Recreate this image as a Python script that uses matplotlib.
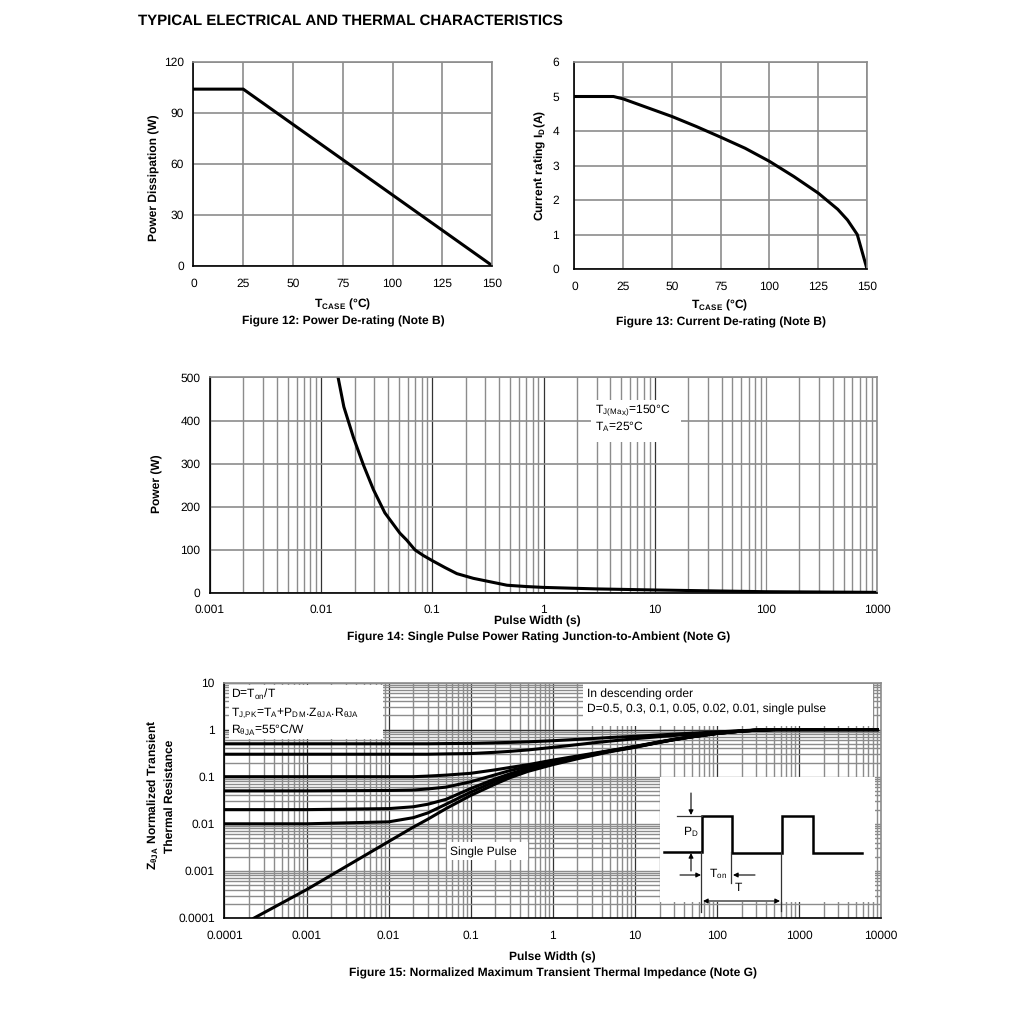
import matplotlib
matplotlib.use("Agg")
import matplotlib.pyplot as plt
from matplotlib.patches import Rectangle
from matplotlib.ticker import LogLocator

plt.rcParams["font.family"] = ["Liberation Sans", "DejaVu Sans"]
plt.rcParams["mathtext.fontset"] = "custom"
plt.rcParams["mathtext.rm"] = "Liberation Sans"
plt.rcParams["mathtext.it"] = "Liberation Sans"
plt.rcParams["mathtext.bf"] = "Liberation Sans:bold"
plt.rcParams["text.hinting"] = "no_hinting"
plt.rcParams["text.hinting_factor"] = 1

W, H = 1020, 1011
GRID = "#8c8c8c"
DARK = "#333333"
LW = 2.2

# Figure 12
t12 = [0, 25, 150]
p12 = [104, 104, 0]

# Figure 13
t13 = [0, 20, 25, 50, 62.5, 75, 87.5, 100, 112.5, 125, 135, 140, 145, 150]
i13 = [5, 5, 4.93, 4.42, 4.13, 3.82, 3.5, 3.12, 2.68, 2.2, 1.73, 1.42, 1.0, 0]

# Figure 14
w14 = [0.0142, 0.016, 0.0195, 0.024, 0.0295, 0.0374, 0.051, 0.0587, 0.0698, 0.083, 0.1,
       0.13, 0.166, 0.234, 0.47, 0.7, 1, 3, 10, 100, 1000]
p14 = [500, 432, 361, 297, 240, 186, 139, 123, 100, 87, 75,
       59, 45, 34, 18, 15, 13, 9.5, 7, 3, 1.5]

# Figure 15
w15 = [0.0001, 0.001, 0.01, 0.02, 0.03, 0.05, 0.1, 0.2, 0.3, 0.5, 1, 2, 3, 5, 10, 20, 30,
       50, 100, 200, 300, 500, 1000, 9000]
z_d50 = [.5, .5, .5, .5, .5, .505, .51, .525, .535, .55, .58, .62, .645, .68, .72, .77, .8,
         .84, .89, .95, .98, 1, 1, 1]
z_d30 = [.3, .3, .3, .3, .3, .305, .31, .33, .345, .37, .42, .48, .52, .57, .64, .71, .75,
         .8, .87, .94, .97, 1, 1, 1]
z_d10 = [.1, .1, .1, .1, .103, .108, .118, .14, .157, .18, .225, .275, .31, .36, .44, .55, .62,
         .71, .83, .93, .97, 1, 1, 1]
z_d05 = [.05, .05, .051, .052, .055, .06, .078, .11, .135, .165, .21, .265, .3, .355, .435, .545, .62,
         .71, .83, .93, .97, 1, 1, 1]
z_d02 = [.02, .02, .021, .023, .026, .033, .056, .09, .115, .15, .2, .255, .295, .35, .43, .54, .615,
         .705, .83, .93, .97, 1, 1, 1]
z_d01 = [.01, .01, .011, .0135, .017, .026, .047, .08, .105, .14, .19, .25, .29, .345, .425, .54, .61,
         .705, .83, .93, .97, 1, 1, 1]
series15 = [z_d50, z_d30, z_d10, z_d05, z_d02, z_d01]
w_single = [0.00023, 0.001, 0.01, 0.02, 0.03, 0.05, 0.1, 0.2, 0.3, 0.5, 1, 2, 3, 5, 10, 20, 30,
            50, 100, 200, 300, 500, 1000, 9000]
z_single = [.0001, .0004, .0042, .0085, .0125, .021, .04, .07, .095, .13, .18, .24, .28, .34, .42, .535, .61,
            .70, .83, .93, .97, 1, 1, 1]

fig = plt.figure(figsize=(W / 100, H / 100), dpi=100, facecolor="white")


def make_axes(left, top, right, bottom):
    ax = fig.add_axes([left / W, 1 - bottom / H, (right - left) / W, (bottom - top) / H])
    ax.tick_params(which="both", length=0, labelsize=8.3)
    ax.tick_params(axis="x", pad=9)
    ax.tick_params(axis="y", pad=7)
    for side in ("top", "right"):
        ax.spines[side].set_color(GRID)
        ax.spines[side].set_linewidth(1.2)
    for side in ("left", "bottom"):
        ax.spines[side].set_linewidth(1.2)
    ax.set_axisbelow(True)
    return ax


def ptext(x, y, s, **kw):
    kw.setdefault("ha", "center")
    kw.setdefault("va", "center")
    kw.setdefault("fontsize", 8.45)
    fig.text(x / W, 1 - y / H, s, **kw)


# ── Figure 12 ──
ax = make_axes(193.5, 62, 492, 265.5)
ax.plot(t12, p12, color="black", lw=LW, solid_joinstyle="miter")
ax.set_xlim(0, 150)
ax.set_ylim(0, 120)
ax.set_xticks(range(0, 151, 25))
ax.set_yticks(range(0, 121, 30))
ax.grid(True, color=GRID, lw=1.2)

# ── Figure 13 ──
ax = make_axes(574.5, 62, 867, 269)
ax.plot(t13, i13, color="black", lw=LW, solid_joinstyle="miter")
ax.set_xlim(0, 150)
ax.set_ylim(0, 6)
ax.set_xticks(range(0, 151, 25))
ax.set_yticks(range(0, 7))
ax.tick_params(axis="y", pad=11)
ax.grid(True, color=GRID, lw=1.2)

# ── Figure 14 ──
ax = make_axes(210, 377.5, 877, 593)
ax.plot(w14, p14, color="black", lw=LW)
ax.set_xscale("log")
ax.set_xlim(0.001, 1000)
ax.set_ylim(0, 500)
ax.set_xticks([0.001, 0.01, 0.1, 1, 10, 100, 1000])
ax.set_xticklabels(["0.001", "0.01", "0.1", "1", "10", "100", "1000"])
ax.set_yticks(range(0, 501, 100))
ax.xaxis.set_minor_locator(LogLocator(base=10, subs=range(2, 10), numticks=20))
ax.tick_params(axis="x", which="minor", labelbottom=False)
ax.tick_params(axis="x", pad=8)
ax.grid(True, which="minor", axis="x", color=GRID, lw=1.0)
ax.grid(True, which="major", axis="x", color=DARK, lw=0.9)
ax.grid(True, which="major", axis="y", color=GRID, lw=1.2)
# the 100 line is grey in the original
ax.xaxis.get_major_ticks()[5].gridline.set_color(GRID)

# ── Figure 15 ──
ax = make_axes(224.5, 682.5, 881, 918)
for z in series15:
    ax.plot(w15, z, color="black", lw=LW, zorder=4)
ax.plot(w_single, z_single, color="black", lw=LW, zorder=4)
ax.set_xscale("log")
ax.set_yscale("log")
ax.set_xlim(0.0001, 10000)
ax.set_ylim(0.0001, 10)
dec_x = [0.0001, 0.001, 0.01, 0.1, 1, 10, 100, 1000, 10000]
dec_y = [0.0001, 0.001, 0.01, 0.1, 1, 10]
ax.set_xticks(dec_x)
ax.set_xticklabels(["0.0001", "0.001", "0.01", "0.1", "1", "10", "100", "1000", "10000"])
ax.set_yticks(dec_y)
ax.set_yticklabels(["0.0001", "0.001", "0.01", "0.1", "1", "10"])
ax.xaxis.set_minor_locator(LogLocator(base=10, subs=range(2, 10), numticks=20))
ax.yaxis.set_minor_locator(LogLocator(base=10, subs=range(2, 10), numticks=20))
ax.tick_params(which="minor", labelbottom=False, labelleft=False)
ax.grid(True, which="minor", color=GRID, lw=1.0)
ax.grid(True, which="major", axis="x", color=DARK, lw=0.9)
ax.grid(True, which="major", axis="y", color=GRID, lw=1.0)
ax.axhline(1, color=DARK, lw=0.9, zorder=1)

# overlay in pixel coordinates for white boxes and the pulse sketch
ov = fig.add_axes([0, 0, 1, 1], zorder=10)
ov.set_xlim(0, W)
ov.set_ylim(H, 0)
ov.axis("off")
ov.patch.set_alpha(0)

boxes = [(591, 400, 90, 42), (229, 685, 154, 54), (583, 684, 290, 42),
         (660, 777, 215, 125), (447, 842, 81, 18)]
for x, y, w, h in boxes:
    ov.add_patch(Rectangle((x, y), w, h, facecolor="white", edgecolor="none"))

# pulse waveform
wave_x = [664, 702, 702, 732, 732, 782, 782, 813, 813, 862]
wave_y = [851.5, 851.5, 816, 816, 852.5, 852.5, 816, 816, 852.5, 852.5]
ov.plot(wave_x, wave_y, color="black", lw=1.8, solid_joinstyle="miter")
thin = dict(color="#333333", lw=0.9)
ov.plot([677, 702], [816, 816], **thin)
ov.plot([701, 701], [852, 912], **thin)
ov.plot([731, 731], [852, 883], **thin)
ov.plot([781, 781], [852, 911], **thin)


def arrow(x0, y0, x1, y1, style="-|>"):
    ov.annotate("", xy=(x1, y1), xytext=(x0, y0),
                arrowprops=dict(arrowstyle=style, color="black", lw=0.8, mutation_scale=7,
                                shrinkA=0, shrinkB=0))


arrow(691, 793, 691, 815)
arrow(691, 871, 691, 853)
arrow(680, 875, 701, 875)
arrow(755, 875, 733, 875)
arrow(703, 901, 780, 901, "<|-|>")

# ── Text ──
BOLD = dict(fontweight="bold", fontsize=8.45)
ptext(138, 20.5, "TYPICAL ELECTRICAL AND THERMAL CHARACTERISTICS", ha="left",
      fontsize=11.15, fontweight="bold")

ptext(343, 304, r"$\mathbf{T_{CASE}}$ (°C)", **BOLD)
ptext(343, 321, "Figure 12: Power De-rating (Note B)", **BOLD)
ptext(154, 178, "Power Dissipation (W)", rotation=90, **BOLD)

ptext(720, 305, r"$\mathbf{T_{CASE}}$ (°C)", **BOLD)
ptext(720.5, 322.5, "Figure 13: Current De-rating (Note B)", **BOLD)
ptext(540, 165, r"Current rating I$\mathbf{_D}$(A)", rotation=90, **BOLD)

ptext(537, 621, "Pulse Width (s)", **BOLD)
ptext(538.5, 637, "Figure 14: Single Pulse Power Rating Junction-to-Ambient (Note G)", **BOLD)
ptext(157, 484, "Power (W)", rotation=90, **BOLD)

ptext(552, 957, "Pulse Width (s)", **BOLD)
ptext(552.5, 973, "Figure 15: Normalized Maximum Transient Thermal Impedance (Note G)", **BOLD)
ptext(153, 795, r"Z$\mathbf{_{θJA}}$ Normalized Transient", rotation=90, **BOLD)
ptext(170, 796, "Thermal Resistance", rotation=90, **BOLD)

ptext(595, 410, r"T$_{\mathrm{J(Max)}}$=150°C", ha="left", zorder=20)
ptext(595, 427, r"T$_{\mathrm{A}}$=25°C", ha="left", zorder=20)
for y, s in [(694, r"D=T$_{\mathrm{on}}$/T"),
             (713, r"T$_{\mathrm{J{,}PK}}$=T$_{\mathrm{A}}$+P$_{\mathrm{DM}}$.Z$_{\mathrm{θJA}}$.R$_{\mathrm{θJA}}$"),
             (730, r"R$_{\mathrm{θJA}}$=55°C/W")]:
    ptext(231, y, s, ha="left", zorder=20)
ptext(587, 694, "In descending order", ha="left", zorder=20)
ptext(587, 709, "D=0.5, 0.3, 0.1, 0.05, 0.02, 0.01, single pulse", ha="left", zorder=20)
ptext(450.5, 852, "Single Pulse", ha="left", zorder=20)
ptext(683, 832, r"P$_{\mathrm{D}}$", ha="left", zorder=20)
ptext(709, 874, r"T$_{\mathrm{on}}$", ha="left", zorder=20)
ptext(735, 888, "T", ha="left", zorder=20)

fig.savefig("out.png", dpi=100, facecolor="white")
